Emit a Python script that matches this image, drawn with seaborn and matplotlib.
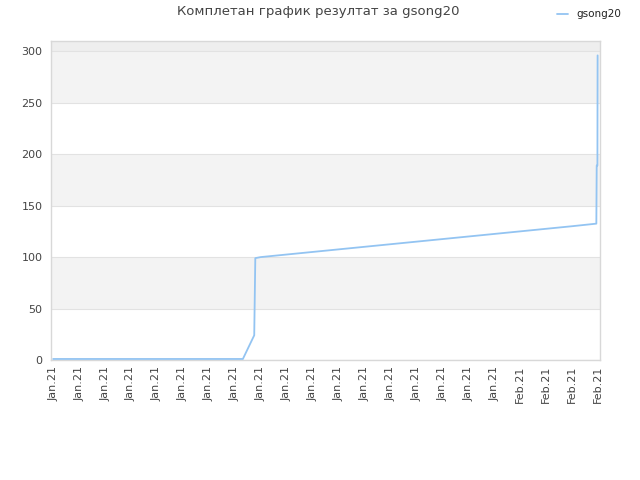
import pandas as pd
import matplotlib.pyplot as plt
import matplotlib.dates as mdates
import seaborn as sns

# punkte des verlaufs (zeit, ergebnis)
zeit = [
    "2021-01-14 00:00", "2021-01-21 07:30", "2021-01-21 18:00", "2021-01-21 19:00",
    "2021-01-22 00:00", "2021-01-23 00:00", "2021-01-24 00:00", "2021-01-25 00:00",
    "2021-01-26 00:00", "2021-01-27 00:00", "2021-01-28 00:00", "2021-01-29 00:00",
    "2021-01-30 00:00", "2021-01-31 00:00", "2021-02-01 00:00", "2021-02-02 00:00",
    "2021-02-03 00:00", "2021-02-03 22:30", "2021-02-03 22:50", "2021-02-03 23:30",
    "2021-02-03 23:40",
]
ergebnis = [
    1, 1, 24, 99,
    100, 102.5, 105, 107.5,
    110, 112.5, 115, 117.5,
    120, 122.5, 125, 127.5,
    130, 132.5, 189, 189,
    296,
]
spieler = "gsong20"
titel = "Комплетан график резултат за gsong20"

df = pd.DataFrame({"Zeit": pd.to_datetime(zeit), "Ergebnis": ergebnis})

sns.set_style("white")
plt.rcParams["font.family"] = ["DejaVu Sans"]

fig = plt.figure(figsize=(6.4, 4.8), dpi=100)
ax = fig.add_axes([0.0797, 0.25, 0.858, 0.6646])

# graue bänder im hintergrund
for lo, hi in [(50, 100), (150, 200), (250, 300)]:
    ax.axhspan(lo, hi, color="#f3f3f3", zorder=0, lw=0)
ax.axhspan(300, 320, color="#eeeeee", zorder=0, lw=0)
for y in range(0, 301, 50):
    ax.axhline(y, color="#e2e2e2", lw=0.8, zorder=1)

sns.lineplot(data=df, x="Zeit", y="Ergebnis", ax=ax, color="#93c4f2",
             lw=1.3, label=spieler, zorder=3)

ax.set_ylim(0, 310)
ax.set_xlim(pd.Timestamp("2021-01-13 22:00"), pd.Timestamp("2021-02-04 02:00"))
ax.set_yticks(range(0, 301, 50))
ax.xaxis.set_major_locator(mdates.DayLocator())
ax.xaxis.set_major_formatter(mdates.DateFormatter("%b.%y"))
ax.tick_params(axis="x", rotation=90, labelsize=8, colors="#444444", length=0, pad=4)
ax.tick_params(axis="y", labelsize=8, colors="#444444", length=0, pad=6)
ax.set_xlabel("")
ax.set_ylabel("")
for s in ax.spines.values():
    s.set_color("#d8d8d8")
    s.set_linewidth(1)

fig.text(0.497, 0.975, titel, ha="center", va="center", fontsize=9.5, color="#444444")
ax.legend(loc="upper right", bbox_to_anchor=(0.985, 1.0), bbox_transform=fig.transFigure,
          frameon=False, fontsize=7.5, handlelength=1.0, labelcolor="#222222")

plt.savefig("out.png", dpi=100)
